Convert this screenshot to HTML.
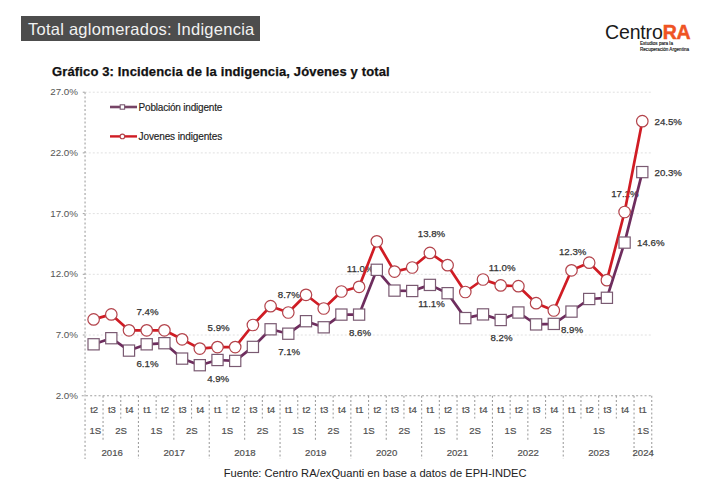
<!DOCTYPE html>
<html><head><meta charset="utf-8">
<style>
html,body{margin:0;padding:0;background:#fff;}
body{width:707px;height:491px;position:relative;overflow:hidden;font-family:"Liberation Sans",sans-serif;}
.tbox{position:absolute;left:21px;top:16px;width:239px;height:25px;background:#4d4d4d;}
.ttxt{position:absolute;left:28px;top:16.5px;height:25px;line-height:25px;font-size:16.5px;color:#f2f2f2;letter-spacing:0.25px;white-space:nowrap;}
.gtitle{position:absolute;left:52px;top:65px;font-size:13px;font-weight:bold;color:#111;letter-spacing:0.14px;-webkit-text-stroke:0.25px #111;white-space:nowrap;line-height:14px;}
.logo1{position:absolute;left:605px;top:22px;font-size:19.5px;color:#1a1a1a;white-space:nowrap;line-height:20px;letter-spacing:-0.15px;}
.logo1 b{color:#ef5323;font-weight:bold;letter-spacing:-0.3px;-webkit-text-stroke:0.5px #ef5323;}
.logo2{position:absolute;left:640px;top:41px;font-size:4.6px;color:#1a1a1a;line-height:6px;-webkit-text-stroke:0.15px #1a1a1a;white-space:nowrap;}
svg{position:absolute;left:0;top:0;}
.yl{font-size:9.8px;fill:#555;text-anchor:end;}
.xl{font-size:9.6px;fill:#505050;text-anchor:middle;stroke:#505050;stroke-width:0.2px;}
.dl{font-size:9.7px;fill:#333;stroke:#333;stroke-width:0.25px;}
.lg{font-size:10px;fill:#222;stroke:#222;stroke-width:0.15px;letter-spacing:-0.2px;}
.src{position:absolute;left:223.7px;top:466px;font-size:11.15px;color:#222;white-space:nowrap;line-height:14px;}
</style></head><body>
<div class="tbox"></div><div class="ttxt">Total aglomerados: Indigencia</div>
<div class="logo1">Centro<b>RA</b></div>
<div class="logo2">Estudios para la<br>Recuperación Argentina</div>
<div class="gtitle">Gráfico 3: Incidencia de la indigencia, Jóvenes y total</div>
<svg width="707" height="491" viewBox="0 0 707 491" style="font-family:'Liberation Sans',sans-serif">
<line x1="84.75" y1="92.2" x2="651.75" y2="92.2" stroke="#e0e0e0" stroke-width="1" stroke-dasharray="2 2"/>
<text x="78" y="95.3" class="yl">27.0%</text>
<line x1="82.75" y1="92.2" x2="84.75" y2="92.2" stroke="#a0a0a0" stroke-width="1"/>
<line x1="84.75" y1="152.9" x2="651.75" y2="152.9" stroke="#e0e0e0" stroke-width="1" stroke-dasharray="2 2"/>
<text x="78" y="156.0" class="yl">22.0%</text>
<line x1="82.75" y1="152.9" x2="84.75" y2="152.9" stroke="#a0a0a0" stroke-width="1"/>
<line x1="84.75" y1="213.6" x2="651.75" y2="213.6" stroke="#e0e0e0" stroke-width="1" stroke-dasharray="2 2"/>
<text x="78" y="216.7" class="yl">17.0%</text>
<line x1="82.75" y1="213.6" x2="84.75" y2="213.6" stroke="#a0a0a0" stroke-width="1"/>
<line x1="84.75" y1="274.3" x2="651.75" y2="274.3" stroke="#e0e0e0" stroke-width="1" stroke-dasharray="2 2"/>
<text x="78" y="277.4" class="yl">12.0%</text>
<line x1="82.75" y1="274.3" x2="84.75" y2="274.3" stroke="#a0a0a0" stroke-width="1"/>
<line x1="84.75" y1="335.0" x2="651.75" y2="335.0" stroke="#e0e0e0" stroke-width="1" stroke-dasharray="2 2"/>
<text x="78" y="338.1" class="yl">7.0%</text>
<line x1="82.75" y1="335.0" x2="84.75" y2="335.0" stroke="#a0a0a0" stroke-width="1"/>
<text x="78" y="398.8" class="yl">2.0%</text>
<line x1="85.05" y1="92.2" x2="85.05" y2="459" stroke="#a0a0a0" stroke-width="1.1" stroke-dasharray="2 2.2"/>
<line x1="81.75" y1="395.7" x2="651.75" y2="395.7" stroke="#a0a0a0" stroke-width="1.1" stroke-dasharray="2 2.2"/>
<line x1="103.05" y1="395.7" x2="103.05" y2="440.5" stroke="#a0a0a0" stroke-width="1.1" stroke-dasharray="2 2.2"/>
<line x1="120.75" y1="395.7" x2="120.75" y2="418.5" stroke="#a0a0a0" stroke-width="1.1" stroke-dasharray="2 2.2"/>
<line x1="138.45" y1="395.7" x2="138.45" y2="459" stroke="#a0a0a0" stroke-width="1.1" stroke-dasharray="2 2.2"/>
<line x1="156.15" y1="395.7" x2="156.15" y2="418.5" stroke="#a0a0a0" stroke-width="1.1" stroke-dasharray="2 2.2"/>
<line x1="173.85" y1="395.7" x2="173.85" y2="440.5" stroke="#a0a0a0" stroke-width="1.1" stroke-dasharray="2 2.2"/>
<line x1="191.55" y1="395.7" x2="191.55" y2="418.5" stroke="#a0a0a0" stroke-width="1.1" stroke-dasharray="2 2.2"/>
<line x1="209.25" y1="395.7" x2="209.25" y2="459" stroke="#a0a0a0" stroke-width="1.1" stroke-dasharray="2 2.2"/>
<line x1="226.95" y1="395.7" x2="226.95" y2="418.5" stroke="#a0a0a0" stroke-width="1.1" stroke-dasharray="2 2.2"/>
<line x1="244.65" y1="395.7" x2="244.65" y2="440.5" stroke="#a0a0a0" stroke-width="1.1" stroke-dasharray="2 2.2"/>
<line x1="262.35" y1="395.7" x2="262.35" y2="418.5" stroke="#a0a0a0" stroke-width="1.1" stroke-dasharray="2 2.2"/>
<line x1="280.05" y1="395.7" x2="280.05" y2="459" stroke="#a0a0a0" stroke-width="1.1" stroke-dasharray="2 2.2"/>
<line x1="297.75" y1="395.7" x2="297.75" y2="418.5" stroke="#a0a0a0" stroke-width="1.1" stroke-dasharray="2 2.2"/>
<line x1="315.45" y1="395.7" x2="315.45" y2="440.5" stroke="#a0a0a0" stroke-width="1.1" stroke-dasharray="2 2.2"/>
<line x1="333.15" y1="395.7" x2="333.15" y2="418.5" stroke="#a0a0a0" stroke-width="1.1" stroke-dasharray="2 2.2"/>
<line x1="350.85" y1="395.7" x2="350.85" y2="459" stroke="#a0a0a0" stroke-width="1.1" stroke-dasharray="2 2.2"/>
<line x1="368.55" y1="395.7" x2="368.55" y2="418.5" stroke="#a0a0a0" stroke-width="1.1" stroke-dasharray="2 2.2"/>
<line x1="386.25" y1="395.7" x2="386.25" y2="440.5" stroke="#a0a0a0" stroke-width="1.1" stroke-dasharray="2 2.2"/>
<line x1="403.95" y1="395.7" x2="403.95" y2="418.5" stroke="#a0a0a0" stroke-width="1.1" stroke-dasharray="2 2.2"/>
<line x1="421.65" y1="395.7" x2="421.65" y2="459" stroke="#a0a0a0" stroke-width="1.1" stroke-dasharray="2 2.2"/>
<line x1="439.35" y1="395.7" x2="439.35" y2="418.5" stroke="#a0a0a0" stroke-width="1.1" stroke-dasharray="2 2.2"/>
<line x1="457.05" y1="395.7" x2="457.05" y2="440.5" stroke="#a0a0a0" stroke-width="1.1" stroke-dasharray="2 2.2"/>
<line x1="474.75" y1="395.7" x2="474.75" y2="418.5" stroke="#a0a0a0" stroke-width="1.1" stroke-dasharray="2 2.2"/>
<line x1="492.45" y1="395.7" x2="492.45" y2="459" stroke="#a0a0a0" stroke-width="1.1" stroke-dasharray="2 2.2"/>
<line x1="510.15" y1="395.7" x2="510.15" y2="418.5" stroke="#a0a0a0" stroke-width="1.1" stroke-dasharray="2 2.2"/>
<line x1="527.85" y1="395.7" x2="527.85" y2="440.5" stroke="#a0a0a0" stroke-width="1.1" stroke-dasharray="2 2.2"/>
<line x1="545.55" y1="395.7" x2="545.55" y2="418.5" stroke="#a0a0a0" stroke-width="1.1" stroke-dasharray="2 2.2"/>
<line x1="563.25" y1="395.7" x2="563.25" y2="459" stroke="#a0a0a0" stroke-width="1.1" stroke-dasharray="2 2.2"/>
<line x1="580.95" y1="395.7" x2="580.95" y2="418.5" stroke="#a0a0a0" stroke-width="1.1" stroke-dasharray="2 2.2"/>
<line x1="598.65" y1="395.7" x2="598.65" y2="418.5" stroke="#a0a0a0" stroke-width="1.1" stroke-dasharray="2 2.2"/>
<line x1="616.35" y1="395.7" x2="616.35" y2="418.5" stroke="#a0a0a0" stroke-width="1.1" stroke-dasharray="2 2.2"/>
<line x1="634.05" y1="395.7" x2="634.05" y2="459" stroke="#a0a0a0" stroke-width="1.1" stroke-dasharray="2 2.2"/>
<line x1="651.75" y1="395.7" x2="651.75" y2="459" stroke="#a0a0a0" stroke-width="1.1" stroke-dasharray="2 2.2"/>
<text x="94.20" y="412.8" class="xl">t2</text>
<text x="111.90" y="412.8" class="xl">t3</text>
<text x="129.60" y="412.8" class="xl">t4</text>
<text x="147.30" y="412.8" class="xl">t1</text>
<text x="165.00" y="412.8" class="xl">t2</text>
<text x="182.70" y="412.8" class="xl">t3</text>
<text x="200.40" y="412.8" class="xl">t4</text>
<text x="218.10" y="412.8" class="xl">t1</text>
<text x="235.80" y="412.8" class="xl">t2</text>
<text x="253.50" y="412.8" class="xl">t3</text>
<text x="271.20" y="412.8" class="xl">t4</text>
<text x="288.90" y="412.8" class="xl">t1</text>
<text x="306.60" y="412.8" class="xl">t2</text>
<text x="324.30" y="412.8" class="xl">t3</text>
<text x="342.00" y="412.8" class="xl">t4</text>
<text x="359.70" y="412.8" class="xl">t1</text>
<text x="377.40" y="412.8" class="xl">t2</text>
<text x="395.10" y="412.8" class="xl">t3</text>
<text x="412.80" y="412.8" class="xl">t4</text>
<text x="430.50" y="412.8" class="xl">t1</text>
<text x="448.20" y="412.8" class="xl">t2</text>
<text x="465.90" y="412.8" class="xl">t3</text>
<text x="483.60" y="412.8" class="xl">t4</text>
<text x="501.30" y="412.8" class="xl">t1</text>
<text x="519.00" y="412.8" class="xl">t2</text>
<text x="536.70" y="412.8" class="xl">t3</text>
<text x="554.40" y="412.8" class="xl">t4</text>
<text x="572.10" y="412.8" class="xl">t1</text>
<text x="589.80" y="412.8" class="xl">t2</text>
<text x="607.50" y="412.8" class="xl">t3</text>
<text x="625.20" y="412.8" class="xl">t4</text>
<text x="642.90" y="412.8" class="xl">t1</text>
<text x="95.40" y="433.8" class="xl">1S</text>
<text x="121.05" y="433.8" class="xl">2S</text>
<text x="156.45" y="433.8" class="xl">1S</text>
<text x="191.85" y="433.8" class="xl">2S</text>
<text x="227.25" y="433.8" class="xl">1S</text>
<text x="262.65" y="433.8" class="xl">2S</text>
<text x="298.05" y="433.8" class="xl">1S</text>
<text x="333.45" y="433.8" class="xl">2S</text>
<text x="368.85" y="433.8" class="xl">1S</text>
<text x="404.25" y="433.8" class="xl">2S</text>
<text x="439.65" y="433.8" class="xl">1S</text>
<text x="475.05" y="433.8" class="xl">2S</text>
<text x="510.45" y="433.8" class="xl">1S</text>
<text x="545.85" y="433.8" class="xl">2S</text>
<text x="598.95" y="433.8" class="xl">1S</text>
<text x="643.20" y="433.8" class="xl">1S</text>
<text x="112.20" y="456.1" class="xl">2016</text>
<text x="174.15" y="456.1" class="xl">2017</text>
<text x="244.95" y="456.1" class="xl">2018</text>
<text x="315.75" y="456.1" class="xl">2019</text>
<text x="386.55" y="456.1" class="xl">2020</text>
<text x="457.35" y="456.1" class="xl">2021</text>
<text x="528.15" y="456.1" class="xl">2022</text>
<text x="598.95" y="456.1" class="xl">2023</text>
<text x="643.20" y="456.1" class="xl">2024</text>
<text x="147.5" y="314.6" class="dl" text-anchor="middle">7.4%</text>
<text x="147.5" y="366.8" class="dl" text-anchor="middle">6.1%</text>
<text x="218.6" y="331.3" class="dl" text-anchor="middle">5.9%</text>
<text x="218.2" y="382.1" class="dl" text-anchor="middle">4.9%</text>
<text x="288.8" y="297.5" class="dl" text-anchor="middle">8.7%</text>
<text x="289.2" y="354.7" class="dl" text-anchor="middle">7.1%</text>
<text x="360.2" y="271.8" class="dl" text-anchor="middle">11.0%</text>
<text x="360" y="336.0" class="dl" text-anchor="middle">8.6%</text>
<text x="431.5" y="237.1" class="dl" text-anchor="middle">13.8%</text>
<text x="431.5" y="306.6" class="dl" text-anchor="middle">11.1%</text>
<text x="502.2" y="271.3" class="dl" text-anchor="middle">11.0%</text>
<text x="501.5" y="341.1" class="dl" text-anchor="middle">8.2%</text>
<text x="572.7" y="255.3" class="dl" text-anchor="middle">12.3%</text>
<text x="572" y="333.4" class="dl" text-anchor="middle">8.9%</text>
<text x="624.9" y="196.5" class="dl" text-anchor="middle">17.1%</text>
<text x="654.5" y="125.0" class="dl" text-anchor="start">24.5%</text>
<text x="654.5" y="175.8" class="dl" text-anchor="start">20.3%</text>
<text x="637.1" y="246.4" class="dl" text-anchor="start">14.6%</text>
<polyline points="93.60,319.4 111.30,314.4 129.00,330.3 146.70,330.3 164.40,330.3 182.10,339.3 199.80,348.6 217.50,347.1 235.20,347.1 252.90,325 270.60,306.2 288.30,312.5 306.00,294.8 323.70,308.5 341.40,291.5 359.10,286.8 376.80,241.3 394.50,271.6 412.20,267.5 429.90,252.9 447.60,265.2 465.30,292 483.00,279.5 500.70,285.4 518.40,286.2 536.10,303.2 553.80,310.5 571.50,270.3 589.20,262.7 606.90,280.2 624.60,212 642.30,121.2" fill="none" stroke="#d01c24" stroke-width="2.7" stroke-linejoin="round"/>
<circle cx="93.60" cy="319.4" r="5.75" fill="#fff" stroke="#b3434b" stroke-width="1.2"/>
<circle cx="111.30" cy="314.4" r="5.75" fill="#fff" stroke="#b3434b" stroke-width="1.2"/>
<circle cx="129.00" cy="330.3" r="5.75" fill="#fff" stroke="#b3434b" stroke-width="1.2"/>
<circle cx="146.70" cy="330.3" r="5.75" fill="#fff" stroke="#b3434b" stroke-width="1.2"/>
<circle cx="164.40" cy="330.3" r="5.75" fill="#fff" stroke="#b3434b" stroke-width="1.2"/>
<circle cx="182.10" cy="339.3" r="5.75" fill="#fff" stroke="#b3434b" stroke-width="1.2"/>
<circle cx="199.80" cy="348.6" r="5.75" fill="#fff" stroke="#b3434b" stroke-width="1.2"/>
<circle cx="217.50" cy="347.1" r="5.75" fill="#fff" stroke="#b3434b" stroke-width="1.2"/>
<circle cx="235.20" cy="347.1" r="5.75" fill="#fff" stroke="#b3434b" stroke-width="1.2"/>
<circle cx="252.90" cy="325" r="5.75" fill="#fff" stroke="#b3434b" stroke-width="1.2"/>
<circle cx="270.60" cy="306.2" r="5.75" fill="#fff" stroke="#b3434b" stroke-width="1.2"/>
<circle cx="288.30" cy="312.5" r="5.75" fill="#fff" stroke="#b3434b" stroke-width="1.2"/>
<circle cx="306.00" cy="294.8" r="5.75" fill="#fff" stroke="#b3434b" stroke-width="1.2"/>
<circle cx="323.70" cy="308.5" r="5.75" fill="#fff" stroke="#b3434b" stroke-width="1.2"/>
<circle cx="341.40" cy="291.5" r="5.75" fill="#fff" stroke="#b3434b" stroke-width="1.2"/>
<circle cx="359.10" cy="286.8" r="5.75" fill="#fff" stroke="#b3434b" stroke-width="1.2"/>
<circle cx="376.80" cy="241.3" r="5.75" fill="#fff" stroke="#b3434b" stroke-width="1.2"/>
<circle cx="394.50" cy="271.6" r="5.75" fill="#fff" stroke="#b3434b" stroke-width="1.2"/>
<circle cx="412.20" cy="267.5" r="5.75" fill="#fff" stroke="#b3434b" stroke-width="1.2"/>
<circle cx="429.90" cy="252.9" r="5.75" fill="#fff" stroke="#b3434b" stroke-width="1.2"/>
<circle cx="447.60" cy="265.2" r="5.75" fill="#fff" stroke="#b3434b" stroke-width="1.2"/>
<circle cx="465.30" cy="292" r="5.75" fill="#fff" stroke="#b3434b" stroke-width="1.2"/>
<circle cx="483.00" cy="279.5" r="5.75" fill="#fff" stroke="#b3434b" stroke-width="1.2"/>
<circle cx="500.70" cy="285.4" r="5.75" fill="#fff" stroke="#b3434b" stroke-width="1.2"/>
<circle cx="518.40" cy="286.2" r="5.75" fill="#fff" stroke="#b3434b" stroke-width="1.2"/>
<circle cx="536.10" cy="303.2" r="5.75" fill="#fff" stroke="#b3434b" stroke-width="1.2"/>
<circle cx="553.80" cy="310.5" r="5.75" fill="#fff" stroke="#b3434b" stroke-width="1.2"/>
<circle cx="571.50" cy="270.3" r="5.75" fill="#fff" stroke="#b3434b" stroke-width="1.2"/>
<circle cx="589.20" cy="262.7" r="5.75" fill="#fff" stroke="#b3434b" stroke-width="1.2"/>
<circle cx="606.90" cy="280.2" r="5.75" fill="#fff" stroke="#b3434b" stroke-width="1.2"/>
<circle cx="624.60" cy="212" r="5.75" fill="#fff" stroke="#b3434b" stroke-width="1.2"/>
<circle cx="642.30" cy="121.2" r="5.75" fill="#fff" stroke="#b3434b" stroke-width="1.2"/>
<polyline points="93.60,344.3 111.30,338.2 129.00,350.6 146.70,344.3 164.40,343.2 182.10,358.6 199.80,365.2 217.50,360 235.20,360.9 252.90,346.9 270.60,329.3 288.30,333.7 306.00,321.2 323.70,327.3 341.40,314.6 359.10,314.6 376.80,269.8 394.50,290.6 412.20,291 429.90,284.9 447.60,293.2 465.30,318.1 483.00,314.4 500.70,320 518.40,312.5 536.10,324.4 553.80,323.9 571.50,311.6 589.20,299 606.90,297.8 624.60,242.6 642.30,172.1" fill="none" stroke="#6e2d5e" stroke-width="2.7" stroke-linejoin="round"/>
<rect x="88.00" y="338.70" width="11.2" height="11.2" fill="#fff" stroke="#7a5a72" stroke-width="1.2"/>
<rect x="105.70" y="332.60" width="11.2" height="11.2" fill="#fff" stroke="#7a5a72" stroke-width="1.2"/>
<rect x="123.40" y="345.00" width="11.2" height="11.2" fill="#fff" stroke="#7a5a72" stroke-width="1.2"/>
<rect x="141.10" y="338.70" width="11.2" height="11.2" fill="#fff" stroke="#7a5a72" stroke-width="1.2"/>
<rect x="158.80" y="337.60" width="11.2" height="11.2" fill="#fff" stroke="#7a5a72" stroke-width="1.2"/>
<rect x="176.50" y="353.00" width="11.2" height="11.2" fill="#fff" stroke="#7a5a72" stroke-width="1.2"/>
<rect x="194.20" y="359.60" width="11.2" height="11.2" fill="#fff" stroke="#7a5a72" stroke-width="1.2"/>
<rect x="211.90" y="354.40" width="11.2" height="11.2" fill="#fff" stroke="#7a5a72" stroke-width="1.2"/>
<rect x="229.60" y="355.30" width="11.2" height="11.2" fill="#fff" stroke="#7a5a72" stroke-width="1.2"/>
<rect x="247.30" y="341.30" width="11.2" height="11.2" fill="#fff" stroke="#7a5a72" stroke-width="1.2"/>
<rect x="265.00" y="323.70" width="11.2" height="11.2" fill="#fff" stroke="#7a5a72" stroke-width="1.2"/>
<rect x="282.70" y="328.10" width="11.2" height="11.2" fill="#fff" stroke="#7a5a72" stroke-width="1.2"/>
<rect x="300.40" y="315.60" width="11.2" height="11.2" fill="#fff" stroke="#7a5a72" stroke-width="1.2"/>
<rect x="318.10" y="321.70" width="11.2" height="11.2" fill="#fff" stroke="#7a5a72" stroke-width="1.2"/>
<rect x="335.80" y="309.00" width="11.2" height="11.2" fill="#fff" stroke="#7a5a72" stroke-width="1.2"/>
<rect x="353.50" y="309.00" width="11.2" height="11.2" fill="#fff" stroke="#7a5a72" stroke-width="1.2"/>
<rect x="371.20" y="264.20" width="11.2" height="11.2" fill="#fff" stroke="#7a5a72" stroke-width="1.2"/>
<rect x="388.90" y="285.00" width="11.2" height="11.2" fill="#fff" stroke="#7a5a72" stroke-width="1.2"/>
<rect x="406.60" y="285.40" width="11.2" height="11.2" fill="#fff" stroke="#7a5a72" stroke-width="1.2"/>
<rect x="424.30" y="279.30" width="11.2" height="11.2" fill="#fff" stroke="#7a5a72" stroke-width="1.2"/>
<rect x="442.00" y="287.60" width="11.2" height="11.2" fill="#fff" stroke="#7a5a72" stroke-width="1.2"/>
<rect x="459.70" y="312.50" width="11.2" height="11.2" fill="#fff" stroke="#7a5a72" stroke-width="1.2"/>
<rect x="477.40" y="308.80" width="11.2" height="11.2" fill="#fff" stroke="#7a5a72" stroke-width="1.2"/>
<rect x="495.10" y="314.40" width="11.2" height="11.2" fill="#fff" stroke="#7a5a72" stroke-width="1.2"/>
<rect x="512.80" y="306.90" width="11.2" height="11.2" fill="#fff" stroke="#7a5a72" stroke-width="1.2"/>
<rect x="530.50" y="318.80" width="11.2" height="11.2" fill="#fff" stroke="#7a5a72" stroke-width="1.2"/>
<rect x="548.20" y="318.30" width="11.2" height="11.2" fill="#fff" stroke="#7a5a72" stroke-width="1.2"/>
<rect x="565.90" y="306.00" width="11.2" height="11.2" fill="#fff" stroke="#7a5a72" stroke-width="1.2"/>
<rect x="583.60" y="293.40" width="11.2" height="11.2" fill="#fff" stroke="#7a5a72" stroke-width="1.2"/>
<rect x="601.30" y="292.20" width="11.2" height="11.2" fill="#fff" stroke="#7a5a72" stroke-width="1.2"/>
<rect x="619.00" y="237.00" width="11.2" height="11.2" fill="#fff" stroke="#7a5a72" stroke-width="1.2"/>
<rect x="636.70" y="166.50" width="11.2" height="11.2" fill="#fff" stroke="#7a5a72" stroke-width="1.2"/>
<line x1="110" y1="107" x2="137" y2="107" stroke="#764466" stroke-width="2.6"/>
<rect x="120.2" y="104.8" width="4.4" height="4.4" fill="#fff" stroke="#7a5a72" stroke-width="1.1"/>
<text x="138.6" y="110.6" class="lg">Población indigente</text>
<line x1="110" y1="136.4" x2="137" y2="136.4" stroke="#d01c24" stroke-width="2.4"/>
<circle cx="122.4" cy="136.4" r="2.3" fill="#fff" stroke="#b3434b" stroke-width="1.1"/>
<text x="138.6" y="140" class="lg" style="letter-spacing:-0.12px">Jovenes indigentes</text>
</svg>
<div class="src">Fuente: Centro RA/exQuanti en base a datos de EPH-INDEC</div>
</body></html>
